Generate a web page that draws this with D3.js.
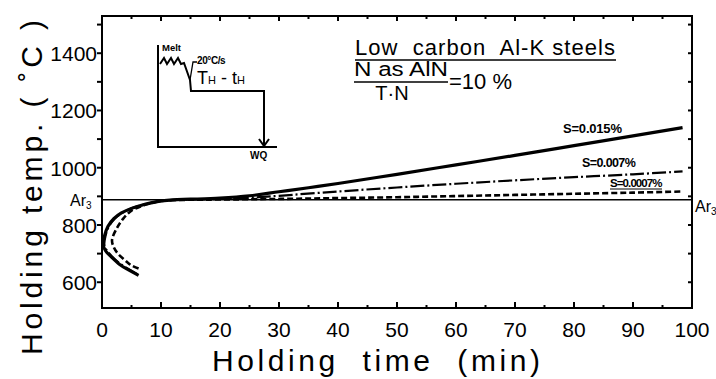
<!DOCTYPE html>
<html><head><meta charset="utf-8">
<script src="https://cdn.jsdelivr.net/npm/d3@7"></script>
<style>body{margin:0;background:#fff}svg{display:block}</style>
</head><body>
<svg id="c" width="716" height="379"></svg>
<script>
// ---- data ----
const xTicks = [0,10,20,30,40,50,60,70,80,90,100];
const yTicks = [600,800,1000,1200,1400];
const ar3Temp = 888;
const seriesNames = ["S=0.015%", "S=0.007%", "S=0.0007%"];
// [time (min), temperature (°C)]
const s015 = [[6.2,624],[4.5,643],[3.0,662],[1.6,688],[0.6,710],[0.2,730],[0.4,760],[1.0,795],[2.0,822],[3.3,842],[5.0,858],[6.7,869],[8.5,878],[10.1,884],[12,888],[15,890],[20,894],[25,902],[30,916],[35,930],[40,945],[50,977],[60,1010],[70,1043],[80,1077],[90,1111],[98.4,1140]];
const s007 = [[6.0,628],[4.4,647],[3.0,666],[1.7,690],[0.8,712],[0.4,732],[0.6,762],[1.2,796],[2.2,823],[3.5,843],[5.0,858],[6.7,869],[8.5,878],[10.1,884],[12,887],[15,889],[20,891],[25,895],[30,902],[40,917],[50,931],[60,944],[70,956],[80,967],[90,977],[98.4,987]];
const s0007 = [[6.2,648],[4.9,660],[3.9,677],[2.7,700],[2.0,722],[1.7,747],[2.5,788],[3.6,822],[5.0,850],[6.7,866],[8.5,877],[10.1,884],[12,887],[15,888],[20,889],[30,891],[40,894],[50,897],[60,901],[70,905],[80,909],[90,913],[98.4,917]];

const svg = d3.select("#c");
const x = d3.scaleLinear().domain([0,100]).range([102,692]);
const y = d3.scaleLinear().domain([510,1530]).range([308,16]);
const font = "'Liberation Sans', Arial, sans-serif";

// frame
svg.append("rect").attr("x",x(0)).attr("y",y(1530)).attr("width",x(100)-x(0)).attr("height",y(510)-y(1530))
  .attr("fill","none").attr("stroke","#000").attr("stroke-width",2);

// bottom ticks (inward)
const bt = d3.range(0,101,5);
svg.append("g").selectAll("line").data(bt).join("line")
  .attr("x1",d=>x(d)).attr("x2",d=>x(d)).attr("y1",y(510)).attr("y2",d=>y(510)-(d%10===0?6:3))
  .attr("stroke","#000").attr("stroke-width",2);
// top ticks (inward)
svg.append("g").selectAll("line").data(bt).join("line")
  .attr("x1",d=>x(d)).attr("x2",d=>x(d)).attr("y1",y(1530)).attr("y2",d=>y(1530)+(d%10===0?5:3))
  .attr("stroke","#000").attr("stroke-width",2);
// left ticks (outward)
const lt = d3.range(600,1501,100);
svg.append("g").selectAll("line").data(lt).join("line")
  .attr("x1",x(0)).attr("x2",x(0)-5).attr("y1",d=>y(d)).attr("y2",d=>y(d))
  .attr("stroke","#000").attr("stroke-width",2);
// right ticks (inward)
svg.append("g").selectAll("line").data(lt).join("line")
  .attr("x1",x(100)).attr("x2",x(100)-4).attr("y1",d=>y(d)).attr("y2",d=>y(d))
  .attr("stroke","#000").attr("stroke-width",2);

// tick labels
svg.append("g").selectAll("text").data(xTicks).join("text")
  .attr("x",d=>x(d)).attr("y",337).attr("text-anchor","middle")
  .attr("font-family",font).attr("font-size",21).text(d=>d);
svg.append("g").selectAll("text").data(yTicks).join("text")
  .attr("x",97).attr("y",d=>y(d)+8).attr("text-anchor","end")
  .attr("font-family",font).attr("font-size",21).text(d=>d);

// axis titles
svg.append("text").attr("x",212).attr("y",371)
  .attr("font-family",font).attr("font-size",30)
  .attr("textLength",328).attr("lengthAdjust","spacing")
  .style("white-space","pre").text("Holding  time  (min)");
svg.append("text").attr("transform","translate(42,355) rotate(-90)")
  .attr("font-family",font).attr("font-size",30)
  .attr("textLength",335).attr("lengthAdjust","spacing")
  .style("white-space","pre").text("Holding temp. ( ˚C )");

// Ar3 line
svg.append("line").attr("x1",x(0)).attr("x2",x(100)).attr("y1",y(ar3Temp)).attr("y2",y(ar3Temp))
  .attr("stroke","#000").attr("stroke-width",1.5);
const ar3L = svg.append("text").attr("x",70).attr("y",y(ar3Temp)+6).attr("font-family",font).attr("font-size",16);
ar3L.append("tspan").text("Ar");
ar3L.append("tspan").attr("font-size",10).attr("dy",3).text("3");
const ar3R = svg.append("text").attr("x",x(100)+3).attr("y",y(ar3Temp)+12).attr("font-family",font).attr("font-size",16);
ar3R.append("tspan").text("Ar");
ar3R.append("tspan").attr("font-size",10).attr("dy",3).text("3");

// curves
const line = d3.line().x(d=>x(d[0])).y(d=>y(d[1])).curve(d3.curveCatmullRom.alpha(0.5));
svg.append("path").datum(s0007).attr("d",line).attr("fill","none").attr("stroke","#000")
  .attr("stroke-width",2.6).attr("stroke-dasharray","6,3");
svg.append("path").datum(s007).attr("d",line).attr("fill","none").attr("stroke","#000")
  .attr("stroke-width",2.2).attr("stroke-dasharray","14,3,2,3");
svg.append("path").datum(s015).attr("d",line).attr("fill","none").attr("stroke","#000")
  .attr("stroke-width",3.2);

// series labels
const lab = [[seriesNames[0],563,133,13,-0.2],[seriesNames[1],582,167,12.5,-0.6],[seriesNames[2],610,187,11.5,-0.9]];
svg.append("g").selectAll("text").data(lab).join("text")
  .attr("x",d=>d[1]).attr("y",d=>d[2]).attr("font-family",font).attr("font-size",d=>d[3])
  .attr("font-weight","bold").attr("letter-spacing",d=>d[4]).text(d=>d[0]);
svg.append("line").attr("x1",610).attr("x2",662).attr("y1",189).attr("y2",189).attr("stroke","#000").attr("stroke-width",1);

// legend text
svg.append("text").attr("x",355).attr("y",55).attr("font-family",font).attr("font-size",22)
  .attr("textLength",260).attr("lengthAdjust","spacing")
  .style("white-space","pre").text("Low  carbon  Al-K steels");
svg.append("line").attr("x1",355).attr("x2",616).attr("y1",60).attr("y2",60).attr("stroke","#000").attr("stroke-width",1.5);
svg.append("text").attr("x",354).attr("y",76).attr("font-family",font).attr("font-size",20)
  .attr("textLength",94).attr("lengthAdjust","spacingAndGlyphs").text("N as AlN");
svg.append("line").attr("x1",354).attr("x2",448).attr("y1",82).attr("y2",82).attr("stroke","#000").attr("stroke-width",1.5);
svg.append("text").attr("x",392).attr("y",100).attr("text-anchor","middle").attr("font-family",font).attr("font-size",20).text("T·N");
svg.append("text").attr("x",449).attr("y",89).attr("font-family",font).attr("font-size",22).text("=10 %");

// inset schematic
const g = svg.append("g").attr("stroke","#000").attr("fill","none").attr("stroke-width",2);
g.append("path").attr("d","M158,45 V147 H277");
g.append("path").attr("d","M160,64 L164,58 L167,64 L171,58 L174,64 L178,58 L181,64 L184,63 L190,80 L191,91 H264 V145");
g.append("path").attr("d","M259,139 L264,146 L269,139");
g.append("path").attr("stroke-width",1.3).attr("d","M197,62 L193,62 L190,80");
svg.append("text").attr("x",162).attr("y",51).attr("font-family",font).attr("font-size",9.5).attr("font-weight","bold").text("Melt");
svg.append("text").attr("x",197).attr("y",64).attr("font-family",font).attr("font-size",10).attr("font-weight","bold").attr("letter-spacing",-0.4).text("20°C/s");
const th = svg.append("text").attr("x",197).attr("y",84).attr("font-family",font).attr("font-size",18);
th.append("tspan").text("T");
th.append("tspan").attr("font-size",11).text("H");
th.append("tspan").text(" - t");
th.append("tspan").attr("font-size",11).text("H");
svg.append("text").attr("x",250).attr("y",159).attr("font-family",font).attr("font-size",10).attr("font-weight","bold").text("WQ");
</script>
</body></html>
